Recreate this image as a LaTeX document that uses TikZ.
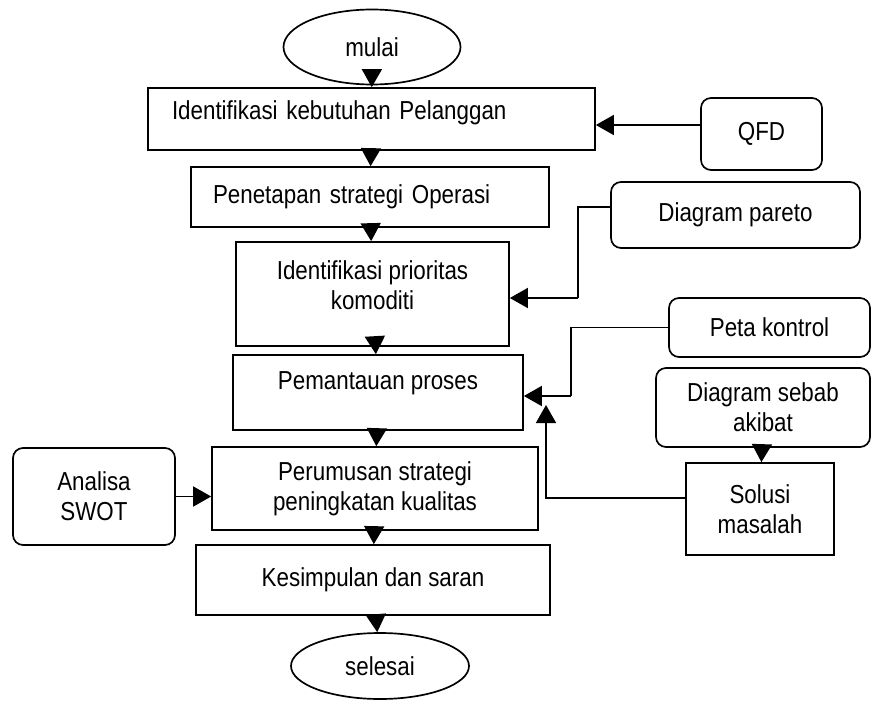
\documentclass[tikz,border=0pt]{standalone}
\usepackage{fontspec}
\setmainfont{Liberation Sans}[FakeStretch=0.86]
\usetikzlibrary{shapes.geometric, arrows.meta}

\begin{document}
\fontsize{18.5}{21.5}\selectfont
\begin{tikzpicture}[->, >={Triangle[length=0.45cm,width=0.5cm]}, line width=1.2pt,
    proses/.style={draw, rectangle, align=center, inner sep=2pt},
    sumber/.style={draw, rectangle, rounded corners=0.25cm, align=center, inner sep=2pt},
    terminal/.style={draw, ellipse, inner sep=0pt}]
    \useasboundingbox (0,0) rectangle (21.775,-17.5);
    % main flow
    \node[terminal, minimum width=4.425cm, minimum height=1.875cm] (mulai) at (9.3,-1.175) {mulai};
    \node[proses, align=left, text width=9.975cm, inner xsep=0.6cm, minimum height=1.55cm, text depth=0.425cm] (ident) at (9.2875,-2.975) {Identifikasi kebutuhan Pelanggan};
    \node[proses, align=left, text width=7.85cm, inner xsep=0.55cm, minimum height=1.5cm] (tetap) at (9.25,-4.925) {Penetapan strategi Operasi};
    \node[proses, minimum width=6.825cm, minimum height=2.6cm, text depth=0.45cm] (prior) at (9.3125,-7.35) {Identifikasi prioritas\\komoditi};
    \node[proses, minimum width=7.25cm, minimum height=1.875cm, text depth=0.6cm] (pantau) at (9.45,-9.8125) {Pemantauan proses};
    \node[proses, minimum width=8.15cm, minimum height=2.075cm] (rumus) at (9.375,-12.2125) {Perumusan strategi\\peningkatan kualitas};
    \node[proses, minimum width=8.85cm, minimum height=1.75cm] (simpul) at (9.325,-14.5) {Kesimpulan dan saran};
    \node[terminal, minimum width=4.45cm, minimum height=1.65cm] (selesai) at (9.5,-16.65) {selesai};
    % tools on the sides
    \node[sumber, minimum width=3.025cm, minimum height=1.8cm] (qfd) at (19.0375,-3.35) {QFD};
    \node[sumber, minimum width=6.225cm, minimum height=1.65cm] (pareto) at (18.3875,-5.375) {Diagram pareto};
    \node[sumber, minimum width=5.025cm, minimum height=1.475cm] (peta) at (19.2375,-8.1875) {Peta kontrol};
    \node[sumber, minimum width=5.35cm, minimum height=1.975cm] (sebab) at (19.075,-10.1875) {Diagram sebab\\akibat};
    \node[proses, minimum width=3.7cm, minimum height=2.3cm] (solusi) at (19.0,-12.725) {Solusi\\masalah};
    \node[sumber, minimum width=4.05cm, minimum height=2.425cm] (swot) at (2.35,-12.4125) {Analisa\\SWOT};
    \coordinate (paretoknee) at (14.45,-7.45);
    \coordinate (petaknee) at (14.275,-9.9);
    \coordinate (solusiend) at (13.65,-10.125);
    % vertical lines
    \draw (mulai) -- (ident);
    \draw (ident) -- (tetap);
    \draw (tetap) -- (prior);
    \draw (prior) -- (pantau);
    \draw (pantau) -- (rumus);
    \draw (rumus) -- (simpul);
    \draw (simpul) -- (selesai);
    \draw (sebab) -- (solusi);
    % side inputs
    \draw ([yshift=0.225cm]qfd.west) -- ([yshift=0.225cm]qfd.west -| ident.east);
    \draw[-] ([yshift=0.2cm]pareto.west) -| (paretoknee);
    \draw (paretoknee) -- (paretoknee -| prior.east);
    \draw[-] (peta.west) -| (petaknee);
    \draw (petaknee) -- (petaknee -| pantau.east);
    \draw ([yshift=0.275cm]solusi.west) -| (solusiend);
    \draw (swot.east) -- (swot.east -| rumus.west);
  \end{tikzpicture}
\end{document}
